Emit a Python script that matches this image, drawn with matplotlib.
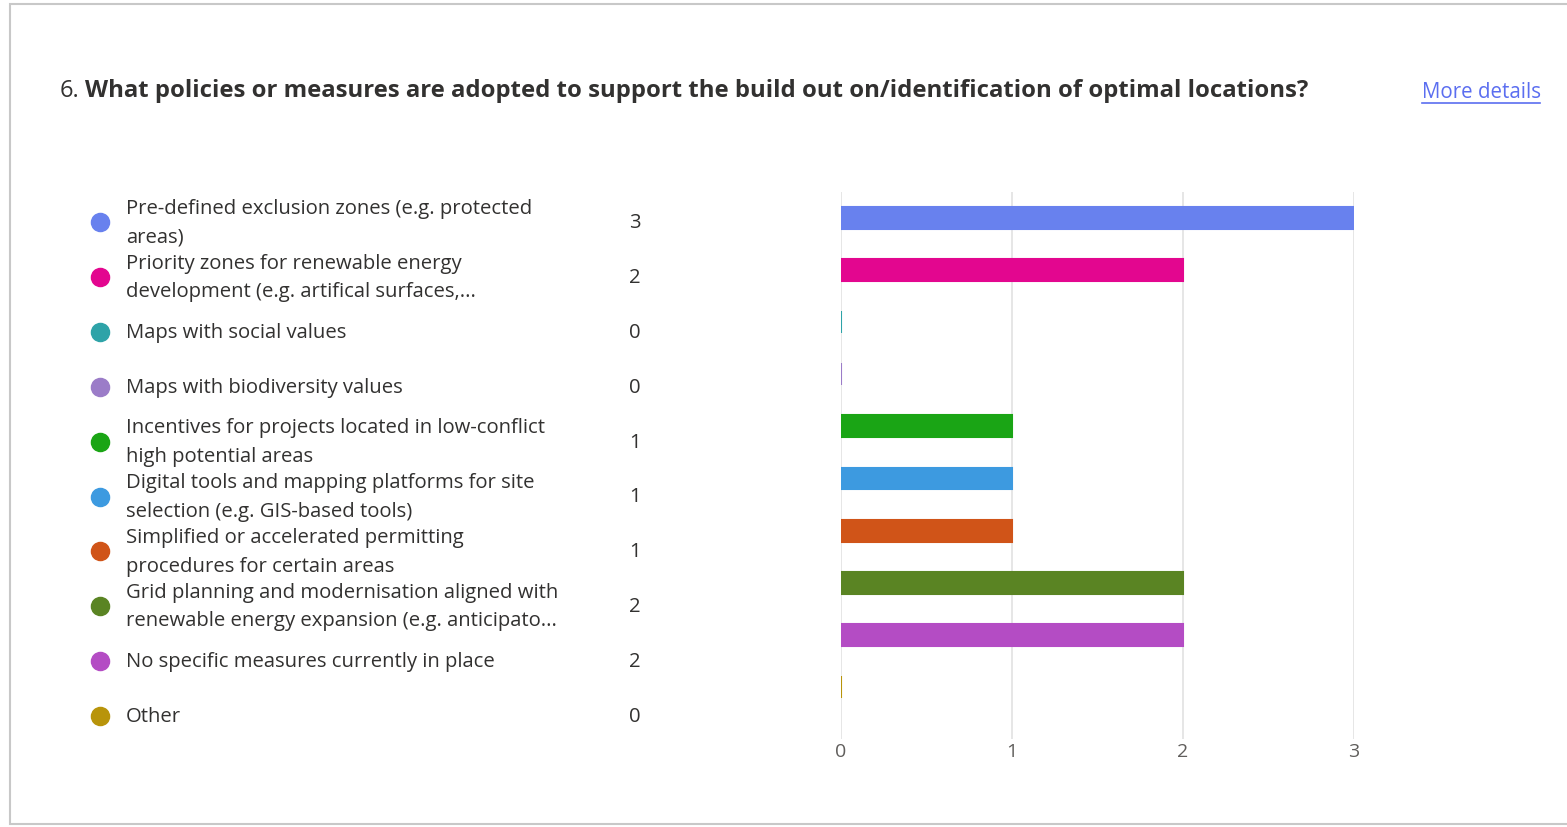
import matplotlib.pyplot as plt
from matplotlib.patches import Rectangle

plt.rcParams['font.family'] = ['Open Sans', 'DejaVu Sans']

question_no = "6."
question = "What policies or measures are adopted to support the build out on/identification of optimal locations?"

labels = [
    "Pre-defined exclusion zones (e.g. protected\nareas)",
    "Priority zones for renewable energy\ndevelopment (e.g. artifical surfaces,...",
    "Maps with social values",
    "Maps with biodiversity values",
    "Incentives for projects located in low-conflict\nhigh potential areas",
    "Digital tools and mapping platforms for site\nselection (e.g. GIS-based tools)",
    "Simplified or accelerated permitting\nprocedures for certain areas",
    "Grid planning and modernisation aligned with\nrenewable energy expansion (e.g. anticipato...",
    "No specific measures currently in place",
    "Other",
]
counts = [3, 2, 0, 0, 1, 1, 1, 2, 2, 0]
colors = ["#6881ee", "#e3068f", "#2ea3a8", "#9b7cc8", "#1aa515",
          "#3d9ae0", "#d05418", "#5a8423", "#b44cc4", "#b8940a"]
x_ticks = [0, 1, 2, 3]

W, H = 1567, 828
fig = plt.figure(figsize=(W / 100, H / 100), dpi=100)

# overlay in pixel coordinates for card, title and legend
ov = fig.add_axes([0, 0, 1, 1])
ov.set_xlim(0, W)
ov.set_ylim(H, 0)
ov.axis("off")
ov.add_patch(Rectangle((10, 5), W, 820, facecolor="white", edgecolor="#c8c8c8", lw=1.5))

ov.text(60, 91, question_no, fontsize=17, color="#323130", va="center")
ov.text(85, 91, question, fontsize=17.2, fontweight="bold", color="#323130", va="center")
ov.text(1422, 92, "More details", fontsize=14.8, color="#5b6ef0", va="center")
ov.plot([1422, 1540], [104, 104], color="#5b6ef0", lw=1.2)

row_y0, row_step = 223, 54.9
for i, (lab, c, n) in enumerate(zip(labels, colors, counts)):
    y = row_y0 + row_step * i
    ov.scatter([100], [y], s=170, color=c, zorder=3)
    ov.text(126, y, lab, fontsize=14.6, color="#323130", va="center", linespacing=1.55)
    ov.text(635, y, str(n), fontsize=14.6, color="#323130", va="center", ha="center")

# bar chart
ax = fig.add_axes([841 / W, 1 - 740 / H, (1354 - 841) / W, (740 - 193) / H])
ypos = list(range(len(counts)))
ax.barh(ypos, counts, height=0.42, color=colors, edgecolor=colors, linewidth=1.5, zorder=3)
ax.set_xlim(0, 3)
ax.set_ylim(10.0, -0.5)
ax.set_xticks(x_ticks)
ax.set_yticks([])
ax.tick_params(axis="x", length=0, labelsize=14, labelcolor="#605e5c", pad=2)
ax.grid(axis="x", color="#e1e1e1", lw=1.2, zorder=0)
for s in ax.spines.values():
    s.set_visible(False)
ax.patch.set_alpha(0)

fig.savefig("out.png", dpi=100)
